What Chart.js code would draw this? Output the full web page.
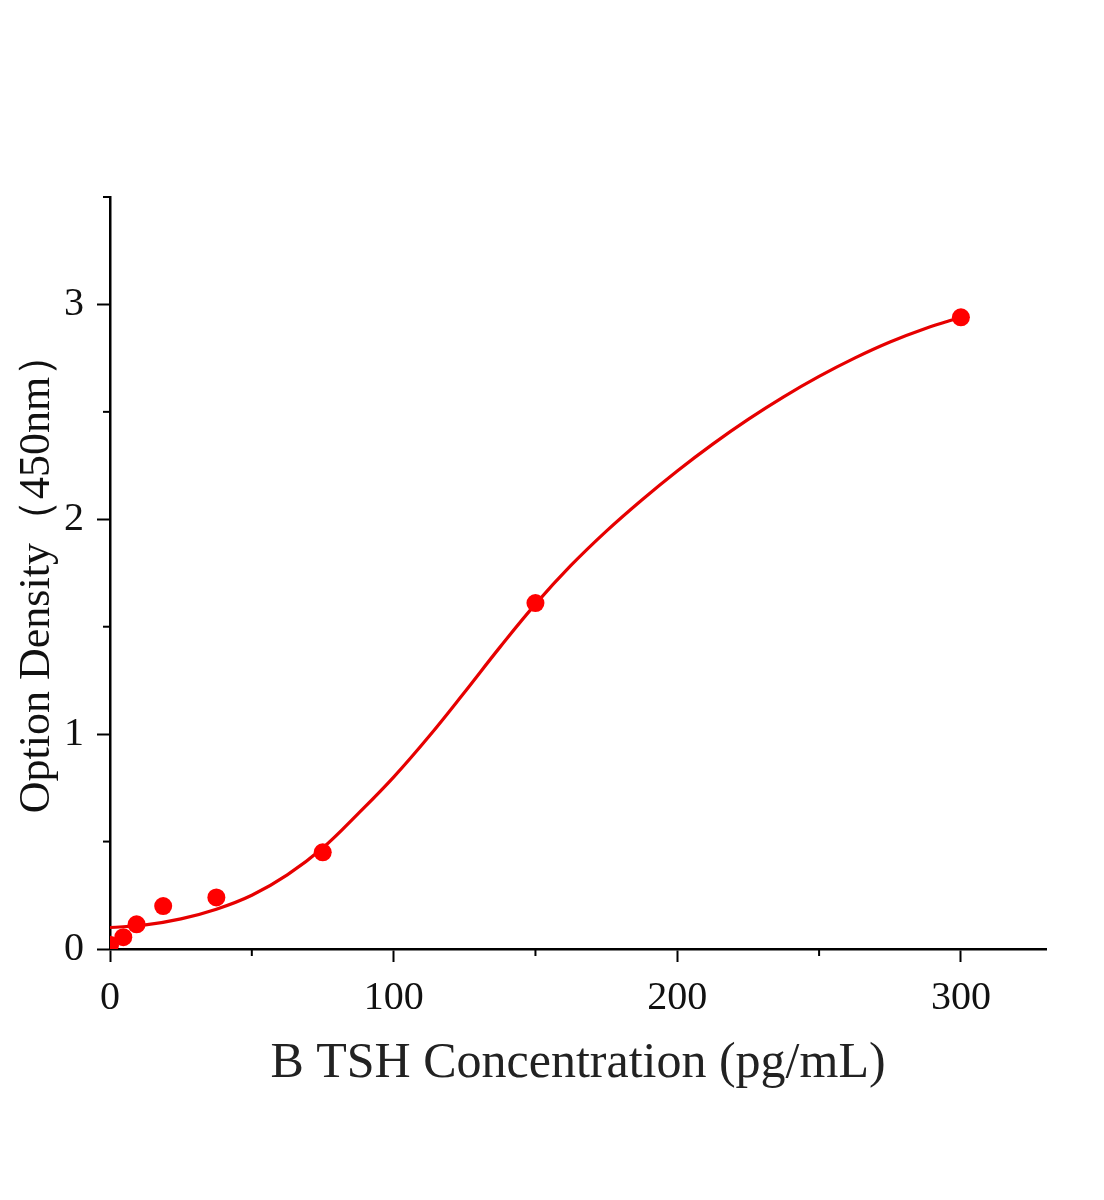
<!DOCTYPE html>
<html>
<head>
<meta charset="utf-8">
<script src="https://cdn.jsdelivr.net/npm/chart.js@4"></script>
<style>
  html, body { margin: 0; padding: 0; background: #fff; }
  #wrap { width: 1104px; height: 1200px; position: relative; }
</style>
</head>
<body>
<div id="wrap"><canvas id="curveChart"></canvas></div>
<script>
// Measured standards
const concentrations = [0, 4.69, 9.375, 18.75, 37.5, 75, 150, 300];
const odValues = [0.02, 0.055, 0.115, 0.20, 0.24, 0.45, 1.61, 2.94];

// Fitted curve
const curveX = [0, 12.5, 25, 37.5, 50, 62.5, 75, 87.5, 100, 112.5, 125, 137.5, 150, 162.5, 175, 187.5, 200, 212.5, 225, 237.5, 250, 262.5, 275, 287.5, 300];
const curveY = [0.100, 0.112, 0.140, 0.185, 0.250, 0.345, 0.470, 0.630, 0.800, 0.990, 1.195, 1.405, 1.605, 1.785, 1.945, 2.090, 2.225, 2.350, 2.465, 2.570, 2.665, 2.750, 2.825, 2.888, 2.940];

// Axis ticks
const xMajor = [0, 100, 200, 300];
const xMinor = [50, 150, 250];
const yMajor = [0, 1, 2, 3];
const yMinor = [0.5, 1.5, 2.5, 3.5];

const serif = "'Liberation Serif', 'Times New Roman', serif";

// draws the short minor ticks
const minorTicks = {
    id: 'minorTicks',
    afterDraw(chart) {
        const c = chart.ctx;
        const xs = chart.scales.x, ys = chart.scales.y;
        c.save();
        c.strokeStyle = '#000';
        c.lineWidth = 2;
        xMinor.forEach(v => {
            const px = xs.getPixelForValue(v);
            c.beginPath();
            c.moveTo(px, xs.top);
            c.lineTo(px, xs.top + 7);
            c.stroke();
        });
        yMinor.forEach(v => {
            const py = ys.getPixelForValue(v);
            c.beginPath();
            c.moveTo(ys.right, py);
            c.lineTo(ys.right - 7, py);
            c.stroke();
        });
        c.restore();
    }
};

new Chart(document.getElementById('curveChart'), {
    type: 'scatter',
    data: {
        datasets: [
            {
                label: 'Fit',
                data: curveX.map((x, i) => ({ x: x, y: curveY[i] })),
                showLine: true,
                borderColor: '#e60000',
                borderWidth: 3.2,
                pointRadius: 0,
                tension: 0.4,
                order: 2
            },
            {
                label: 'Standards',
                data: concentrations.map((x, i) => ({ x: x, y: odValues[i] })),
                backgroundColor: '#ff0000',
                borderWidth: 0,
                pointRadius: 9,
                clip: 0,
                order: 1
            }
        ]
    },
    options: {
        responsive: true,
        maintainAspectRatio: false,
        animation: false,
        layout: { padding: { left: 0, top: 197, right: 58, bottom: 0 } },
        plugins: { legend: { display: false }, tooltip: { enabled: false } },
        scales: {
            x: {
                type: 'linear',
                min: 0,
                max: 330,
                afterFit: s => { s.height = 251; },
                afterBuildTicks: s => { s.ticks = xMajor.map(v => ({ value: v })); },
                border: { color: '#000', width: 2.5 },
                grid: { drawOnChartArea: false, tickLength: 13, tickColor: '#000', tickWidth: 2 },
                ticks: {
                    color: '#111',
                    padding: 12,
                    maxRotation: 0,
                    font: { family: serif, size: 40 }
                },
                title: {
                    display: true,
                    text: 'B TSH Concentration (pg/mL)',
                    color: '#222',
                    font: { family: serif, size: 50 },
                    padding: { top: 0, bottom: 106 }
                }
            },
            y: {
                type: 'linear',
                min: 0,
                max: 3.5,
                afterFit: s => { s.width = 110; },
                afterBuildTicks: s => { s.ticks = yMajor.map(v => ({ value: v })); },
                border: { color: '#000', width: 2.5 },
                grid: { drawOnChartArea: false, tickLength: 13, tickColor: '#000', tickWidth: 2 },
                ticks: {
                    color: '#111',
                    padding: 13,
                    font: { family: serif, size: 40 }
                },
                title: {
                    display: true,
                    text: 'Option Density（450nm）',
                    color: '#111',
                    font: { family: serif, size: 44 },
                    padding: { top: 11, bottom: 0 }
                }
            }
        }
    },
    plugins: [minorTicks]
});
</script>
</body>
</html>
